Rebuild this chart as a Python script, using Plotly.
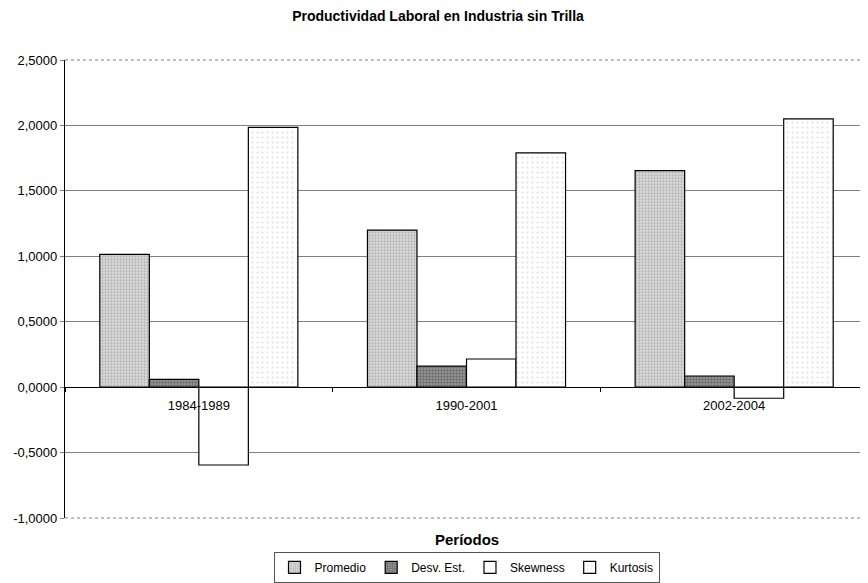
import plotly.graph_objects as go

periodos = ["1984-1989", "1990-2001", "2002-2004"]
promedio = [1.015, 1.20, 1.655]
desv_est = [0.06, 0.16, 0.085]
skewness = [-0.595, 0.215, -0.085]
kurtosis = [1.985, 1.79, 2.05]
y_ticks = [2.5, 2.0, 1.5, 1.0, 0.5, 0.0, -0.5, -1.0]
y_tick_text = [f"{v:.4f}".replace(".", ",") for v in y_ticks]

# page body has an 8px margin, so the figure is drawn 8px smaller
W, H = 860, 575
font = "Liberation Sans, Arial, sans-serif"

fig = go.Figure()
line = dict(color="black", width=1.2)
fig.add_bar(name="Promedio", x=periodos, y=promedio,
            marker=dict(color="#d0d0d0", line=line,
                        pattern=dict(shape=".", fgcolor="#8f8f8f", bgcolor="#dcdcdc", size=3, solidity=0.45)))
fig.add_bar(name="Desv. Est.", x=periodos, y=desv_est,
            marker=dict(color="#777777", line=line,
                        pattern=dict(shape=".", fgcolor="#3c3c3c", bgcolor="#9a9a9a", size=3, solidity=0.5)))
fig.add_bar(name="Skewness", x=periodos, y=skewness,
            marker=dict(color="white", line=line))
fig.add_bar(name="Kurtosis", x=periodos, y=kurtosis,
            marker=dict(color="white", line=line,
                        pattern=dict(shape=".", fgcolor="#c0c0c0", bgcolor="white", size=5, solidity=0.15)))

ymin, ymax = -1.0, 2.5
fig.update_layout(
    width=W, height=H,
    paper_bgcolor="white", plot_bgcolor="white",
    margin=dict(l=57, r=0, t=52, b=65, autoexpand=False),
    barmode="group", bargap=0.26, bargroupgap=0,
    font=dict(family=font, size=13, color="black"),
    title=dict(text="<b>Productividad Laboral en Industria sin Trilla</b>",
               x=0.5, xanchor="center", y=0.986, yanchor="middle", pad=dict(t=0, b=0),
               font=dict(size=14, family=font)),
    showlegend=True,
    legend=dict(orientation="h", x=0.5, xanchor="center", y=-0.074, yanchor="top",
                xref="paper", yref="paper",
                bordercolor="#555", borderwidth=1, bgcolor="white",
                font=dict(size=12, family=font), itemwidth=30, traceorder="normal",
                tracegroupgap=0),
    xaxis=dict(anchor="free", position=(0 - ymin) / (ymax - ymin),
               showline=True, linecolor="black", linewidth=1.2, automargin=False,
               ticks="outside", tickson="boundaries", ticklen=4, tickcolor="black",
               ticklabelstandoff=6,
               showgrid=False, tickfont=dict(size=13, family=font), zeroline=False),
    yaxis=dict(range=[ymin, ymax], tickvals=y_ticks, ticktext=y_tick_text,
               showline=True, linecolor="black", linewidth=1.2, automargin=False,
               ticks="outside", ticklen=4, tickcolor="#808080",
               showgrid=True, gridcolor="#808080", gridwidth=1,
               zeroline=False, tickfont=dict(size=13, family=font)),
)
# dotted plot-area border at top and bottom
for yy in (0, 1):
    fig.add_shape(type="line", xref="x domain", yref="y domain", x0=0, x1=1, y0=yy, y1=yy,
                  line=dict(color="#808080", width=1, dash="dot"), layer="below")
fig.add_annotation(text="<b>Períodos</b>", xref="paper", yref="paper",
                   x=0.5, y=-0.048, yanchor="middle", showarrow=False,
                   font=dict(size=15, family=font))
fig.write_html("out.html")
